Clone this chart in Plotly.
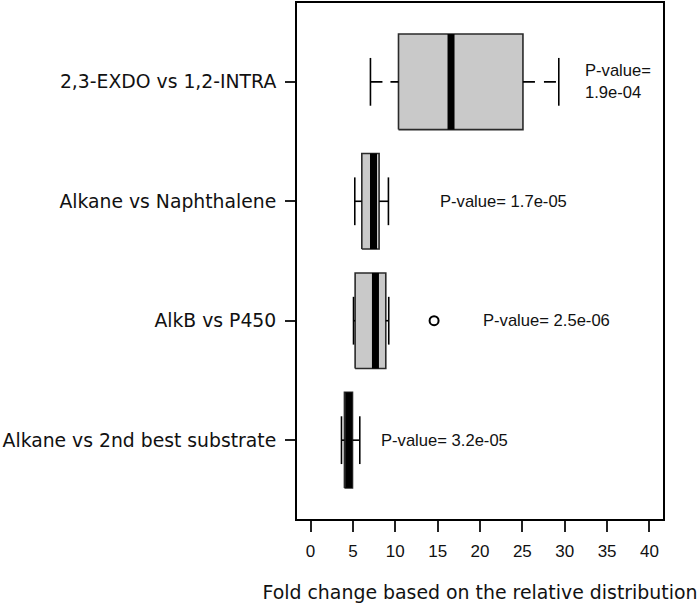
import plotly.graph_objects as go

# ---- data ----
categories = ["Alkane vs 2nd best substrate", "AlkB vs P450",
              "Alkane vs Naphthalene", "2,3-EXDO vs 1,2-INTRA"]
positions = [1, 2, 3, 4]
lower_whisker = [3.65, 5.07, 5.22, 7.07]
q1 = [4.0, 5.26, 6.05, 10.38]
median = [4.5, 7.66, 7.43, 16.58]
q3 = [4.95, 8.88, 8.09, 25.07]
upper_whisker = [5.81, 9.23, 9.19, 29.3]
outliers = [[], [14.58], [], []]
p_text = ["P-value= 3.2e-05", "P-value= 2.5e-06",
          "P-value= 1.7e-05", "P-value=<br>1.9e-04"]
p_text_x = [8.1, 20.1, 15.05, 32.1]
x_ticks = [0, 5, 10, 15, 20, 25, 30, 35, 40]

BOX_HALF = 0.4
CAP_HALF = 0.2
FONT = "Liberation Sans, Arial, Helvetica, sans-serif"
WIDE = "DejaVu Sans, Verdana, sans-serif"

fig = go.Figure()
for i, p in enumerate(positions):
    fig.add_trace(go.Scatter(
        x=[q1[i], q3[i], q3[i], q1[i], q1[i]],
        y=[p - BOX_HALF, p - BOX_HALF, p + BOX_HALF, p + BOX_HALF, p - BOX_HALF],
        mode="lines", fill="toself", fillcolor="#c9c9c9",
        line=dict(color="#2a2a2a", width=1.6), hoverinfo="skip"))
    fig.add_trace(go.Scatter(
        x=[lower_whisker[i], q1[i]], y=[p, p], mode="lines",
        line=dict(color="black", width=1.6, dash="12px,8px"), hoverinfo="skip"))
    fig.add_trace(go.Scatter(
        x=[q3[i], upper_whisker[i]], y=[p, p], mode="lines",
        line=dict(color="black", width=1.6, dash="12px,9px"), hoverinfo="skip"))
    for w in (lower_whisker[i], upper_whisker[i]):
        fig.add_trace(go.Scatter(
            x=[w, w], y=[p - CAP_HALF, p + CAP_HALF], mode="lines",
            line=dict(color="black", width=1.6), hoverinfo="skip"))
    fig.add_trace(go.Scatter(
        x=[median[i], median[i]], y=[p - BOX_HALF, p + BOX_HALF], mode="lines",
        line=dict(color="black", width=7), hoverinfo="skip"))
    if outliers[i]:
        fig.add_trace(go.Scatter(
            x=outliers[i], y=[p] * len(outliers[i]), mode="markers",
            marker=dict(symbol="circle-open", size=9, color="black",
                        line=dict(width=2)), hoverinfo="skip"))
    fig.add_annotation(x=p_text_x[i], y=p, xref="x", yref="y", text=p_text[i],
                       showarrow=False, xanchor="left", yanchor="middle",
                       align="left", font=dict(size=16.6, color="#111", family=FONT))

fig.update_layout(
    width=700, height=603, showlegend=False,
    plot_bgcolor="white", paper_bgcolor="white",
    margin=dict(l=297, r=37, t=3, b=84),
    font=dict(family=FONT, color="#111"),
    xaxis=dict(range=[-1.6, 41.6], tickvals=x_ticks, ticks="outside",
               ticklen=11, tickwidth=1.6, tickcolor="#222",
               showline=True, mirror=True, linecolor="black", linewidth=2,
               showgrid=False, zeroline=False, automargin=False,
               ticklabelstandoff=5,
               tickfont=dict(size=17, family=FONT, color="#111"),
               title=dict(text="Fold change based on the relative distribution",
                          font=dict(size=18.9, family=WIDE, color="#111"),
                          standoff=30)),
    yaxis=dict(range=[0.34, 4.66], tickvals=positions, ticktext=categories,
               ticks="outside", ticklen=10, tickwidth=1.6, tickcolor="#222",
               showline=True, mirror=True, linecolor="black", linewidth=2,
               showgrid=False, zeroline=False, automargin=False,
               ticklabelstandoff=5,
               tickfont=dict(size=18.8, family=WIDE, color="#111")),
)

fig.write_html("out.html", config={"displayModeBar": False},
               post_script="document.body.style.margin='0';document.body.style.padding='0';")
